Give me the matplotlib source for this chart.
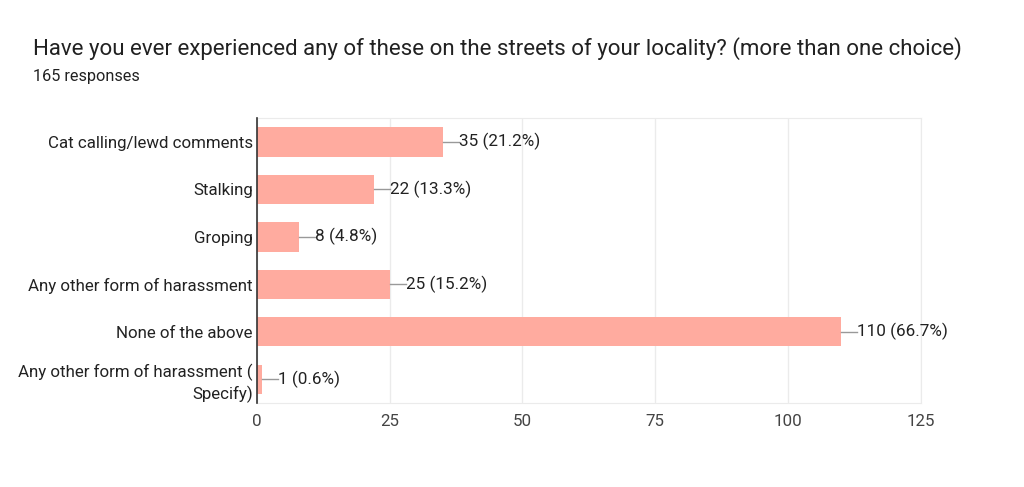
import matplotlib
matplotlib.use('Agg')
import matplotlib.pyplot as plt
import numpy as np

plt.rcParams['font.family'] = ['Roboto', 'DejaVu Sans']

# data
categories = ['Cat calling/lewd comments', 'Stalking', 'Groping',
              'Any other form of harassment', 'None of the above',
              'Any other form of harassment (\nSpecify)']
counts = [35, 22, 8, 25, 110, 1]
percents = ['21.2%', '13.3%', '4.8%', '15.2%', '66.7%', '0.6%']
xticks = [0, 25, 50, 75, 100, 125]

fig = plt.figure(figsize=(10.24, 4.87), dpi=100)
ax = fig.add_axes([0.251, 0.1725, 0.648, 0.585])

y = np.arange(len(categories))
ax.barh(y, counts, height=0.62, color='#ffab9f', zorder=2)

for yi, c, p in zip(y, counts, percents):
    ax.plot([c, c + 3], [yi, yi], color='#999999', lw=1, zorder=2)
    ax.text(c + 3, yi, f'{c} ({p})', va='center', ha='left',
            fontsize=12.3, color='#222222')

ax.set_xlim(0, 125)
ax.set_ylim(len(categories) - 0.5, -0.5)
ax.set_xticks(xticks)
ax.set_yticks(y)
ax.set_yticklabels(categories, fontsize=12.2, color='#222222', linespacing=1.35)
ax.tick_params(axis='x', labelsize=12.2, labelcolor='#444444', length=0, pad=8)
ax.tick_params(axis='y', length=0, pad=3)
ax.xaxis.grid(True, color='#ebebeb', lw=1, zorder=0)
ax.set_axisbelow(True)

for s in ['top', 'right', 'bottom']:
    ax.spines[s].set_color('#ebebeb')
ax.spines['left'].set_color('#333333')
ax.spines['left'].set_linewidth(1.2)
ax.spines['left'].set_zorder(3)

fig.text(0.032, 0.9, 'Have you ever experienced any of these on the streets of your locality? (more than one choice)',
         fontsize=16, color='#212121', va='center')
fig.text(0.032, 0.842, '165 responses', fontsize=11.7, color='#212121', va='center')

fig.savefig('out.png', dpi=100, facecolor='white')
